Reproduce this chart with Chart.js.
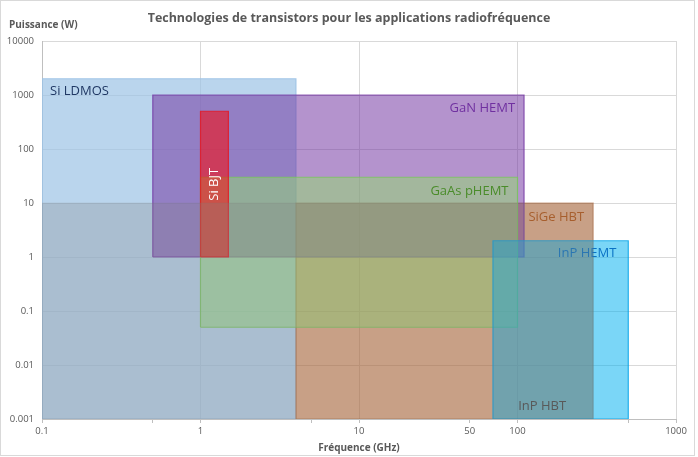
<!DOCTYPE html>
<html lang="fr">
<head>
  <meta charset="UTF-8" />
  <title>Technologies de transistors RF</title>
  <script src="https://cdn.jsdelivr.net/npm/chart.js"></script>
  <style>
    html, body { margin: 0; padding: 0; background: #fff; }
    #wrap { position: relative; width: 698px; height: 457px; }
  </style>
</head>
<body>
  <div id="wrap"><canvas id="rfChart"></canvas></div>

  <script>
    // Data (GHz / W), listed bottom layer first
    const technologies = ['Si LDMOS', 'SiGe HBT', 'GaN HEMT', 'GaAs pHEMT', 'Si BJT', 'InP HEMT', 'InP HBT'];
    const freqMin  = [0.1,   4,     0.5,  1,    1,   70,    0.1];
    const freqMax  = [4,     300,   110,  100,  1.5, 500,   300];
    const powerMin = [0.001, 0.001, 1,    0.05, 1,   0.001, 0.001];
    const powerMax = [2000,  10,    1000, 30,   500, 2,     10];

    const freqTicks  = [0.1, 0.5, 1, 5, 10, 50, 100, 500, 1000];
    const freqLabels = [0.1, 1, 10, 50, 100, 1000];
    const powerTicks = [0.001, 0.01, 0.1, 1, 10, 100, 1000, 10000];

    const fills = [
      'rgba(157,195,230,0.7)',
      'rgba(197,90,17,0.5)',
      'rgba(112,48,160,0.52)',
      'rgba(146,220,110,0.5)',
      'rgba(255,0,0,0.53)',
      'rgba(0,176,240,0.52)',
      'rgba(128,128,128,0.27)'
    ];
    const borders = [
      'rgba(157,195,230,0.9)',
      'rgba(185,85,25,0.45)',
      'rgba(112,48,160,0.75)',
      'rgba(120,200,90,0.8)',
      'rgba(230,20,30,0.8)',
      'rgba(0,160,230,0.8)',
      'rgba(128,128,128,0.15)'
    ];
    const textColors = ['#203864', '#b5520f', '#7030a0', '#4a8c2a', '#ffffff', '#0a72c4', '#595959'];

    // where each label sits relative to its box
    const labelPlace = [
      { h: 'left',  v: 'top',    dx: 8,   dy: 13 },
      { h: 'right', v: 'top',    dx: -9,  dy: 14 },
      { h: 'right', v: 'top',    dx: -9,  dy: 13 },
      { h: 'right', v: 'top',    dx: -9,  dy: 14 },
      { h: 'mid',   v: 'top',    dx: 0,   dy: 73, rotate: true },
      { h: 'right', v: 'top',    dx: -12, dy: 13 },
      { h: 'right', v: 'bottom', dx: -27, dy: -13 }
    ];

    const FONT = '"Open Sans", "DejaVu Sans", sans-serif';
    const GREY = '#595959';

    const isDecade = v => Math.abs(Math.log10(v) - Math.round(Math.log10(v))) < 1e-6;

    const datasets = technologies.map((name, i) => ({
      label: name,
      data: [
        { x: freqMin[i], y: powerMin[i] },
        { x: freqMin[i], y: powerMax[i] },
        { x: freqMax[i], y: powerMax[i] },
        { x: freqMax[i], y: powerMin[i] },
        { x: freqMin[i], y: powerMin[i] }
      ],
      showLine: true,
      fill: 'shape',
      backgroundColor: fills[i],
      borderColor: borders[i],
      borderWidth: 1.2,
      pointRadius: 0,
      tension: 0,
      order: -i   // first in the list drawn first (at the bottom)
    }));

    const labelPlugin = {
      id: 'rectLabels',
      afterDatasetDraw(chart, args) {
        const i = args.index;
        const p = labelPlace[i];
        const { x, y } = chart.scales;
        const ctx = chart.ctx;
        const left = x.getPixelForValue(freqMin[i]);
        const right = x.getPixelForValue(freqMax[i]);
        const top = y.getPixelForValue(powerMax[i]);
        const bottom = y.getPixelForValue(powerMin[i]);
        const ax = p.h === 'left' ? left : p.h === 'right' ? right : (left + right) / 2;
        const ay = p.v === 'top' ? top : bottom;
        ctx.save();
        ctx.font = '13px ' + FONT;
        ctx.fillStyle = textColors[i];
        ctx.textBaseline = 'middle';
        ctx.translate(ax + p.dx, ay + p.dy);
        if (p.rotate) {
          ctx.rotate(-Math.PI / 2);
          ctx.textAlign = 'center';
        } else {
          ctx.textAlign = p.h === 'left' ? 'left' : 'right';
        }
        ctx.fillText(technologies[i], 0, 0);
        ctx.restore();
      }
    };

    const framePlugin = {
      id: 'frame',
      beforeDraw(chart) {
        const ctx = chart.ctx;
        ctx.save();
        ctx.fillStyle = '#fff';
        ctx.fillRect(0, 0, chart.width, chart.height);
        ctx.strokeStyle = '#d9d9d9';
        ctx.lineWidth = 1;
        ctx.strokeRect(0.5, 0.5, 694, 455);
        ctx.restore();
      },
      afterDraw(chart) {
        const ctx = chart.ctx;
        const area = chart.chartArea;
        const title = 'Technologies de transistors pour les applications radiofréquence';
        ctx.save();
        ctx.fillStyle = GREY;
        ctx.textBaseline = 'middle';

        // fit the title to the width seen in the picture
        ctx.font = 'bold 14px ' + FONT;
        const size = 14 * 403 / ctx.measureText(title).width;
        ctx.font = 'bold ' + size.toFixed(2) + 'px ' + FONT;
        ctx.textAlign = 'center';
        ctx.fillText(title, 349, 18);

        ctx.font = 'bold 10px ' + FONT;
        ctx.textAlign = 'left';
        ctx.fillText('Puissance (W)', 9, 25);

        ctx.textAlign = 'center';
        ctx.fillText('Fréquence (GHz)', (area.left + area.right) / 2, 448);
        ctx.restore();
      }
    };

    new Chart(document.getElementById('rfChart'), {
      type: 'scatter',
      data: { datasets },
      options: {
        responsive: true,
        maintainAspectRatio: false,
        animation: false,
        layout: { padding: { top: 41, right: 22, bottom: 0, left: 0 } },
        plugins: {
          legend: { display: false },
          tooltip: { enabled: false },
          title: { display: false }
        },
        scales: {
          x: {
            type: 'logarithmic',
            min: 0.1,
            max: 1000,
            afterBuildTicks: s => { s.ticks = freqTicks.map(v => ({ value: v })); },
            afterFit: s => { s.height = 38; },
            ticks: {
              autoSkip: false,
              maxRotation: 0,
              padding: 3,
              color: GREY,
              font: { family: FONT, size: 9.5 },
              callback: v => freqLabels.includes(v) ? String(v) : ''
            },
            grid: {
              color: c => (c.tick && isDecade(c.tick.value)) ? '#d9d9d9' : 'rgba(0,0,0,0)',
              tickColor: '#bfbfbf',
              tickLength: 4
            },
            border: { color: '#bfbfbf' }
          },
          y: {
            type: 'logarithmic',
            min: 0.001,
            max: 10000,
            afterBuildTicks: s => { s.ticks = powerTicks.map(v => ({ value: v })); },
            afterFit: s => { s.width = 42; },
            ticks: {
              padding: 8,
              color: GREY,
              font: { family: FONT, size: 9.5 },
              callback: v => String(v)
            },
            grid: { color: '#d9d9d9', drawTicks: false },
            border: { color: '#bfbfbf' }
          }
        }
      },
      plugins: [framePlugin, labelPlugin]
    });
  </script>
</body>
</html>
